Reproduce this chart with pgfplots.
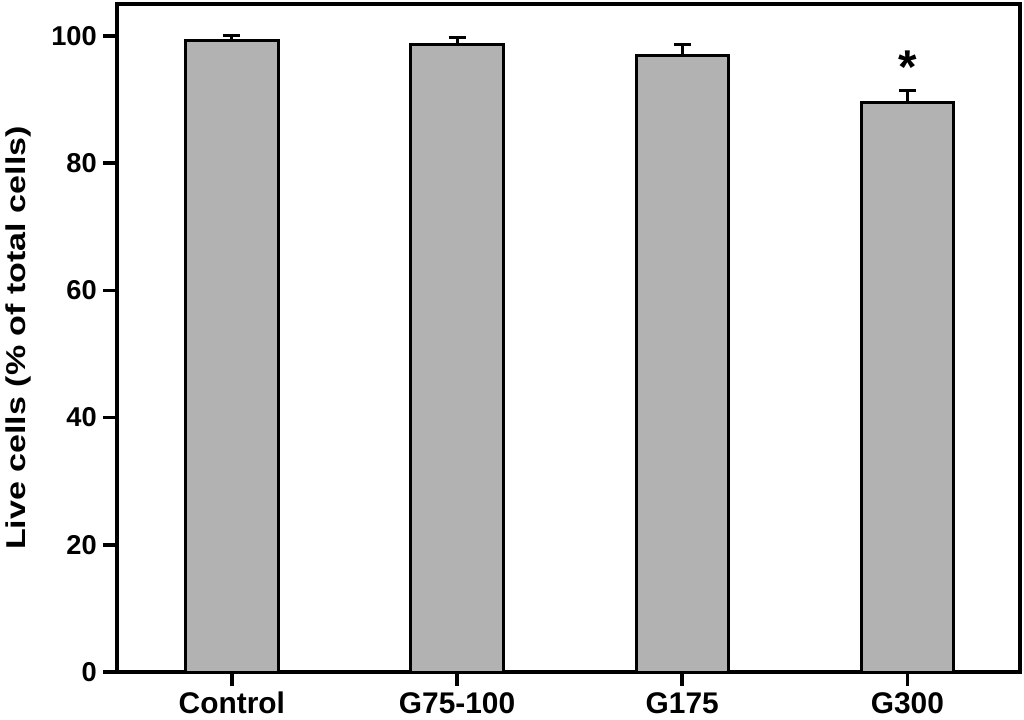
\documentclass[border=0pt]{standalone}
\usepackage{fontspec}
\setmainfont{Liberation Sans}
\usepackage{graphicx}
\usepackage{pgfplots}
\pgfplotsset{compat=1.18}
\definecolor{barfill}{RGB}{178,178,178}

\begin{document}
\begin{tikzpicture}
\begin{axis}[
    name=ax,
    scale only axis,
    width=180.6mm, height=133.6mm,
    xmin=-0.51, xmax=3.5,
    ymin=0, ymax=105,
    axis line style={line width=0.9mm},
    xtick={0,1,2,3},
    xticklabels={Control,G75-100,G175,G300},
    ytick={0,20,40,60,80,100},
    tick align=outside, tick pos=left,
    major tick length=2.8mm,
    every tick/.style={black, line width=0.7mm},
    xticklabel style={font=\fontsize{17}{19}\selectfont\bfseries},
    yticklabel style={font=\fontsize{15.5}{17}\selectfont\bfseries},
    ylabel={\scalebox{1.25}[1]{Live cells (\% of total cells)}},
    ylabel style={font=\fontsize{15.5}{17}\selectfont\bfseries,
        at={(axis description cs:-0.1096,0.5)}, anchor=center},
    /pgf/number format/assume math mode=true,
    ybar, bar width=0.41,
]
% mean with upper error (SD)
\addplot[fill=barfill, draw=black, line width=0.6mm,
    error bars/.cd, y dir=plus, y explicit,
    error bar style={line width=0.6mm, black},
    error mark options={rotate=90, mark size=1.7mm, line width=0.6mm, black}]
coordinates {
(0,99.2) +- (0,0.8)
(1,98.7) +- (0,1.1)
(2,96.9) +- (0,1.7)
(3,89.5) +- (0,1.9)
};
\node[font=\fontsize{27}{29}\selectfont\bfseries] at (axis cs:3,95) {*};
\end{axis}
\pgfresetboundingbox
\path ([xshift=-23.4mm,yshift=-9.4mm]ax.south west) rectangle ([xshift=0.8mm,yshift=0.8mm]ax.north east);
\end{tikzpicture}
\end{document}
